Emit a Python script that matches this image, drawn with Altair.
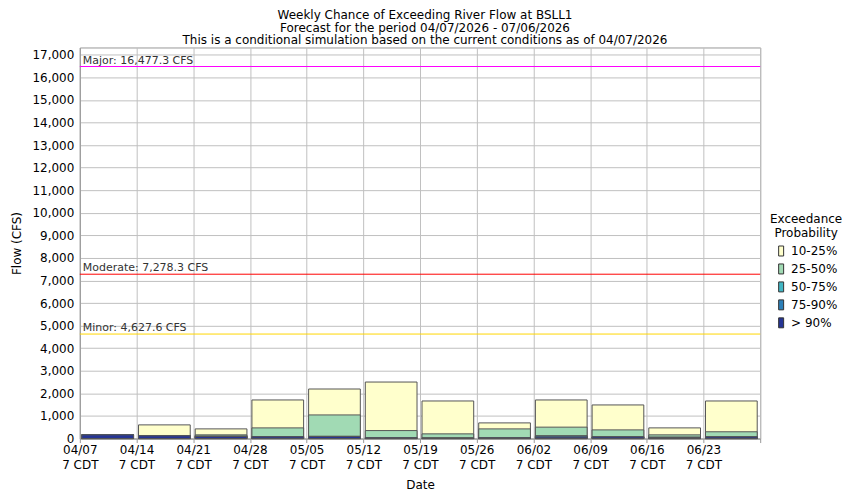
import altair as alt
import pandas as pd

# ---- data ----
weeks = ["2026-04-07", "2026-04-14", "2026-04-21", "2026-04-28", "2026-05-05", "2026-05-12",
         "2026-05-19", "2026-05-26", "2026-06-02", "2026-06-09", "2026-06-16", "2026-06-23"]
period_end = "2026-06-30"
tick_suffix = "7 CDT"

categories = ["10-25%", "25-50%", "50-75%", "75-90%", "> 90%"]
colors = ["#FFFFCC", "#A1DAB4", "#41B6C4", "#2C7FB8", "#253494"]

# top of each band (flow exceeded with 10%, 25%, 50%, 75%, 90% chance)
p10 = [172, 605, 428, 1709, 2194, 2503, 1664, 693, 1709, 1488, 472, 1664]
p25 = [170, 135, 163, 472, 1046, 353, 207, 428, 505, 384, 163, 300]
p50 = [168, 128, 110, 90, 100, 40, 30, 40, 125, 80, 60, 80]
p75 = [166, 124, 100, 80, 95, 35, 25, 35, 110, 75, 55, 75]
p90 = [163, 120, 88, 75, 88, 30, 20, 30, 65, 70, 50, 70]

thr_names = ["Major", "Moderate", "Minor"]
thr_values = [16477.3, 7278.3, 4627.6]
thr_colors = ["#FF00FF", "#FF0000", "#FFD700"]

title_lines = ["Weekly Chance of Exceeding River Flow at BSLL1",
               "Forecast for the period 04/07/2026 - 07/06/2026",
               "This is a conditional simulation based on the current conditions as of 04/07/2026"]

y_max = 17320
font = "DejaVu Sans"

# ---- tables ----
ends = weeks[1:] + [period_end]
series = [p10, p25, p50, p75, p90]
rows = []
for k, (cat, vals) in enumerate(zip(categories, series)):
    for s, e, v in zip(weeks, ends, vals):
        rows.append({"start": s, "end": e, "value": v, "cat": cat, "ord": k})
bars_df = pd.DataFrame(rows)

thr_df = pd.DataFrame({
    "name": thr_names,
    "value": thr_values,
    "color": thr_colors,
    "label": [f"{n}: {v:,.1f} CFS" for n, v in zip(thr_names, thr_values)],
    "start": [weeks[0]] * len(thr_names),
})


def ms(d):
    return int(pd.Timestamp(d, tz="UTC").value // 10**6)


tick_vals = [ms(d) for d in weeks + [period_end]]
end_ms = ms(period_end)

x_scale = alt.Scale(type="utc", domain=[ms(weeks[0]), end_ms])
y_scale = alt.Scale(domain=[0, y_max], nice=False)

x_axis = alt.Axis(
    title="Date", values=tick_vals, grid=True, labelAngle=0,
    labelExpr=f"datum.value >= {end_ms} ? '' : [utcFormat(datum.value, '%m/%d'), '{tick_suffix}']",
    labelFlush=False, labelOverlap=False, tickSize=4, labelPadding=2,
    labelLineHeight=15, titlePadding=9,
)
y_axis = alt.Axis(
    title="Flow (CFS)", values=list(range(0, 17001, 1000)), format=",d",
    grid=True, ticks=False, labelPadding=6, titlePadding=8,
)

bars = alt.Chart(bars_df).mark_bar(
    xOffset=2, x2Offset=-3, stroke="#555555", strokeWidth=1
).encode(
    x=alt.X("start:T", scale=x_scale, axis=x_axis),
    x2="end:T",
    y=alt.Y("value:Q", scale=y_scale, axis=y_axis, stack=None),
    y2=alt.datum(0),
    color=alt.Color(
        "cat:N",
        scale=alt.Scale(domain=categories, range=colors),
        legend=alt.Legend(
            title=["Exceedance", "Probability"], orient="none",
            legendX=692, legendY=167, titleAlign="center", titleAnchor="middle",
            titleFontWeight="normal", titleFontSize=12, labelFontSize=12,
            titleLineHeight=14,
            symbolType="M-0.5,-1H0.5V1H-0.5Z", symbolSize=100,
            symbolStrokeColor="#333333", symbolStrokeWidth=1,
            rowPadding=4, labelOffset=4, padding=0, titlePadding=5,
        ),
    ),
    order=alt.Order("ord:Q"),
)

rules = alt.Chart(thr_df).mark_rule(strokeWidth=1).encode(
    y=alt.Y("value:Q", scale=y_scale, axis=y_axis),
    color=alt.Color("color:N", scale=None),
)

labels = alt.Chart(thr_df).mark_text(
    align="left", baseline="alphabetic", dx=3, dy=-3, fontSize=11, color="#333333", font=font
).encode(
    x=alt.X("start:T", scale=x_scale, axis=x_axis),
    y=alt.Y("value:Q", scale=y_scale, axis=y_axis),
    text="label:N",
)

chart = alt.layer(bars, rules, labels).properties(
    width=682, height=392,
    title=alt.TitleParams(
        text=title_lines, fontSize=12, fontWeight="normal", anchor="middle",
        lineHeight=13, offset=0, font=font, color="#000000", dx=5,
    ),
    autosize=alt.AutoSizeParams(type="none"),
    padding={"left": 72, "top": 39, "right": 82, "bottom": 52},
).configure(
    font=font,
).configure_view(
    stroke="#999999",
).configure_axis(
    labelFont=font, titleFont=font, labelFontSize=12, titleFontSize=12,
    titleFontWeight="normal", labelColor="#000000", titleColor="#000000",
    gridColor="#C0C0C0", domainColor="#999999", tickColor="#999999",
).configure_legend(
    labelFont=font, titleFont=font, labelColor="#000000", titleColor="#000000",
)

chart.save("out.html", embed_options={"renderer": "svg", "actions": False})
